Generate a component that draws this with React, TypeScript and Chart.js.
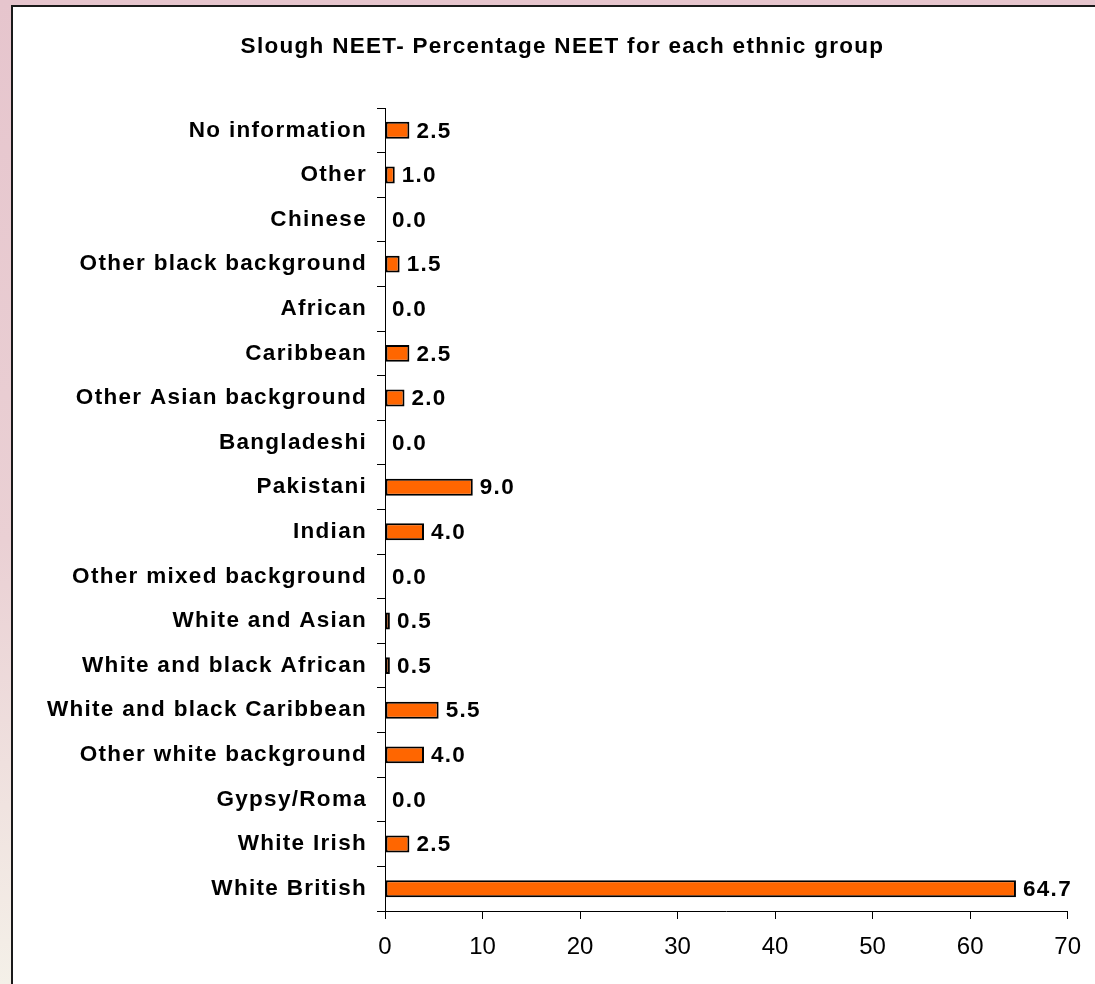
import React, { useEffect, useRef } from 'react';
import { Chart, registerables } from 'chart.js';

Chart.register(...registerables);

const TITLE = 'Slough NEET- Percentage NEET for each ethnic group';

const categories = [
  'No information',
  'Other',
  'Chinese',
  'Other black background',
  'African',
  'Caribbean',
  'Other Asian background',
  'Bangladeshi',
  'Pakistani',
  'Indian',
  'Other mixed background',
  'White and Asian',
  'White and black African',
  'White and black Caribbean',
  'Other white background',
  'Gypsy/Roma',
  'White Irish',
  'White British',
];

const percentNeet = [2.5, 1.0, 0.0, 1.5, 0.0, 2.5, 2.0, 0.0, 9.0, 4.0, 0.0, 0.5, 0.5, 5.5, 4.0, 0.0, 2.5, 64.7];

const xMin = 0;
const xMax = 70;
const xStep = 10;

const FONT = '"Liberation Sans", Arial, Helvetica, sans-serif';
const SPACING = '1.3px';

const CW = 1082;
const CH = 977;

export default function App() {
  const ref = useRef<HTMLCanvasElement | null>(null);

  useEffect(() => {
    document.body.style.margin = '0';
    const canvas = ref.current;
    if (!canvas) return;

    const labelPlugin = {
      id: 'labelsAndSpacing',
      afterLayout(chart: any) {
        const t = chart.titleBlock;
        if (t) {
          t.left += 7;
          t.right += 7;
        }
      },
      beforeDraw(chart: any) {
        chart.ctx.letterSpacing = SPACING;
      },
      afterDatasetsDraw(chart: any) {
        const ctx = chart.ctx;
        const meta = chart.getDatasetMeta(0);
        ctx.save();
        ctx.letterSpacing = SPACING;
        ctx.font = `bold 22.5px ${FONT}`;
        ctx.fillStyle = '#000';
        ctx.textAlign = 'left';
        ctx.textBaseline = 'middle';
        meta.data.forEach((bar: any, i: number) => {
          ctx.fillText(percentNeet[i].toFixed(1), bar.x + 7, bar.y + 1);
        });
        ctx.restore();
        ctx.letterSpacing = '0px';
      },
      afterDraw(chart: any) {
        chart.ctx.letterSpacing = '0px';
      },
    };

    const chart = new Chart(canvas, {
      type: 'bar',
      data: {
        labels: categories,
        datasets: [
          {
            data: percentNeet,
            backgroundColor: '#FF6600',
            borderColor: '#000000',
            borderWidth: 2,
            borderSkipped: false,
            barPercentage: 0.38,
            categoryPercentage: 1,
          },
        ],
      },
      options: {
        indexAxis: 'y',
        responsive: false,
        animation: false,
        devicePixelRatio: 1,
        layout: { padding: { left: 22, right: 19, top: 0, bottom: 0 } },
        plugins: {
          legend: { display: false },
          tooltip: { enabled: false },
          title: {
            display: true,
            text: TITLE,
            color: '#000',
            font: { family: FONT, size: 22.5, weight: 'bold', lineHeight: 1.2 },
            padding: { top: 26, bottom: 48 },
          },
        },
        scales: {
          x: {
            type: 'linear',
            position: 'bottom',
            min: xMin,
            max: xMax,
            ticks: {
              z: 1,
              stepSize: xStep,
              color: '#000',
              padding: 14,
              font: { family: FONT, size: 24, weight: 'normal' },
            },
            grid: {
              drawOnChartArea: false,
              drawTicks: true,
              tickLength: 8,
              tickColor: '#000',
              tickWidth: 1,
            },
            border: { display: true, color: '#000', width: 1 },
            afterFit: (scale: any) => {
              scale.height = 73;
            },
          },
          y: {
            type: 'category',
            position: 'left',
            ticks: {
              autoSkip: false,
              color: '#000',
              padding: 10,
              font: { family: FONT, size: 22.5, weight: 'bold' },
            },
            grid: {
              offset: true,
              drawOnChartArea: false,
              drawTicks: true,
              tickLength: 8,
              tickColor: '#000',
              tickWidth: 1,
            },
            border: { display: true, color: '#000', width: 1 },
            afterFit: (scale: any) => {
              scale.width = 350;
            },
          },
        },
      },
      plugins: [labelPlugin],
    });

    return () => {
      chart.destroy();
    };
  }, []);

  return (
    <div
      style={{
        position: 'absolute',
        left: 0,
        top: 0,
        width: 1095,
        height: 984,
        overflow: 'hidden',
        background: 'linear-gradient(180deg, #E6C5CD 0%, #EAD0D4 55%, #F4F0E8 100%)',
      }}
    >
      <div
        style={{
          position: 'absolute',
          left: 11,
          top: 5,
          width: 1100,
          height: 1000,
          border: '2px solid #1a1a1a',
          background: '#ffffff',
        }}
      >
        <canvas
          ref={ref}
          width={CW}
          height={CH}
          style={{ display: 'block', width: CW, height: CH }}
        />
      </div>
    </div>
  );
}
